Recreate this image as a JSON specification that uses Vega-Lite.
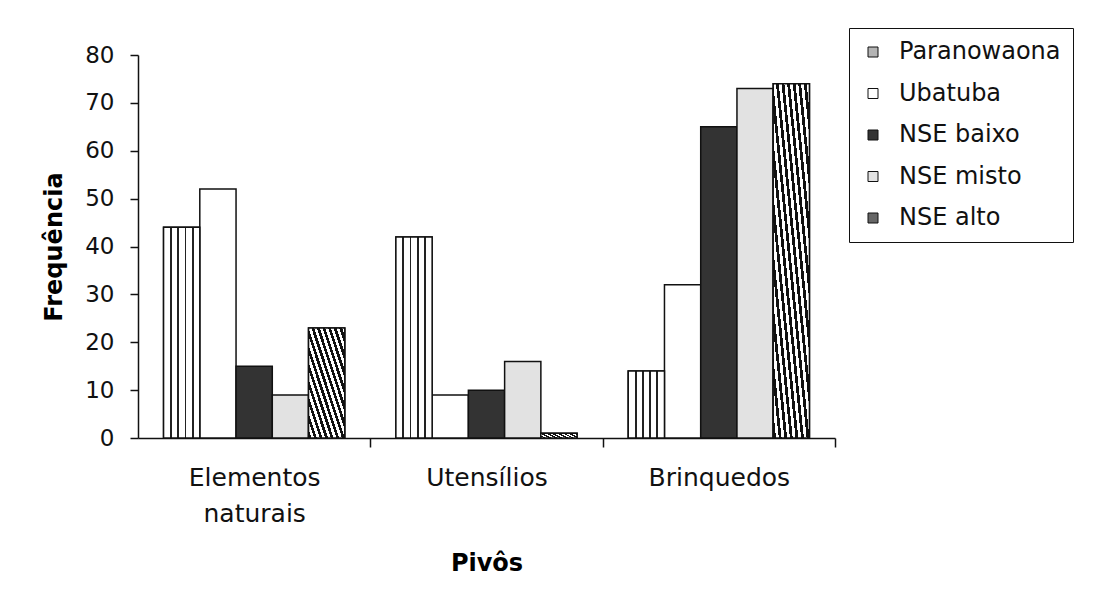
{
  "$schema": "https://vega.github.io/schema/vega-lite/v6.json",
  "autosize": "none",
  "padding": {"left": 138, "top": 55, "right": 269, "bottom": 163},
  "width": 697,
  "height": 383,
  "background": "white",
  "data": {
    "values": [
      {"pivo": "Elementos naturais", "grupo": "Paranowaona", "freq": 44},
      {"pivo": "Elementos naturais", "grupo": "Ubatuba", "freq": 52},
      {"pivo": "Elementos naturais", "grupo": "NSE baixo", "freq": 15},
      {"pivo": "Elementos naturais", "grupo": "NSE misto", "freq": 9},
      {"pivo": "Elementos naturais", "grupo": "NSE alto", "freq": 23},
      {"pivo": "Utensílios", "grupo": "Paranowaona", "freq": 42},
      {"pivo": "Utensílios", "grupo": "Ubatuba", "freq": 9},
      {"pivo": "Utensílios", "grupo": "NSE baixo", "freq": 10},
      {"pivo": "Utensílios", "grupo": "NSE misto", "freq": 16},
      {"pivo": "Utensílios", "grupo": "NSE alto", "freq": 1},
      {"pivo": "Brinquedos", "grupo": "Paranowaona", "freq": 14},
      {"pivo": "Brinquedos", "grupo": "Ubatuba", "freq": 32},
      {"pivo": "Brinquedos", "grupo": "NSE baixo", "freq": 65},
      {"pivo": "Brinquedos", "grupo": "NSE misto", "freq": 73},
      {"pivo": "Brinquedos", "grupo": "NSE alto", "freq": 74}
    ]
  },
  "encoding": {
    "x": {
      "field": "pivo",
      "type": "nominal",
      "sort": ["Elementos naturais", "Utensílios", "Brinquedos"],
      "scale": {"paddingInner": 0.22, "paddingOuter": 0.11},
      "axis": {
        "title": "Pivôs",
        "labelAngle": 0,
        "labelExpr": "split(datum.label, ' ')",
        "labelFont": "DejaVu Sans",
        "labelFontSize": 25,
        "labelLineHeight": 36,
        "labelColor": "#111",
        "labelPadding": 18,
        "labelBaseline": "top",
        "tickOffset": 116,
        "labelOffset": -116,
        "tickSize": 9,
        "tickColor": "#111",
        "tickWidth": 1.5,
        "domainColor": "#111",
        "domainWidth": 1.5,
        "titleFont": "DejaVu Sans",
        "titleFontSize": 24,
        "titleFontWeight": "bold",
        "titleColor": "#000",
        "titlePadding": 25
      }
    },
    "xOffset": {
      "field": "grupo",
      "type": "nominal",
      "sort": ["Paranowaona", "Ubatuba", "NSE baixo", "NSE misto", "NSE alto"],
      "scale": {"paddingInner": 0, "paddingOuter": 0}
    },
    "y": {
      "field": "freq",
      "type": "quantitative",
      "scale": {"domain": [0, 80], "nice": false},
      "axis": {
        "title": "Frequência",
        "values": [0, 10, 20, 30, 40, 50, 60, 70, 80],
        "grid": false,
        "labelFont": "DejaVu Sans",
        "labelFontSize": 23,
        "labelColor": "#111",
        "labelPadding": 16,
        "tickSize": 8,
        "tickColor": "#111",
        "tickWidth": 1.5,
        "domainColor": "#111",
        "domainWidth": 1.5,
        "titleFont": "DejaVu Sans",
        "titleFontSize": 24,
        "titleFontWeight": "bold",
        "titleColor": "#000",
        "titlePadding": 18
      }
    }
  },
  "layer": [
    {
      "mark": {"type": "bar", "stroke": "#111", "strokeWidth": 1.5},
      "encoding": {
        "fill": {
          "field": "grupo",
          "type": "nominal",
          "sort": ["Paranowaona", "Ubatuba", "NSE baixo", "NSE misto", "NSE alto"],
          "scale": {
            "domain": ["Paranowaona", "Ubatuba", "NSE baixo", "NSE misto", "NSE alto"],
            "range": ["#b4b4b4", "#ffffff", "#333333", "#e2e2e2", "#666666"]
          },
          "legend": {
            "title": null,
            "orient": "none",
            "legendX": 711,
            "legendY": -27,
            "direction": "vertical",
            "strokeColor": "#111",
            "fillColor": "white",
            "padding": 12,
            "symbolType": "square",
            "symbolSize": 100,
            "symbolStrokeColor": "#111",
            "symbolStrokeWidth": 1,
            "labelFont": "DejaVu Sans",
            "labelFontSize": 24,
            "labelColor": "#111",
            "labelOffset": 14,
            "labelLimit": 300,
            "rowPadding": 17.5
          }
        }
      }
    },
    {
      "transform": [{"filter": "datum.grupo === 'Paranowaona'"}],
      "mark": {
        "type": "bar", "stroke": "#111", "strokeWidth": 1.5,
        "fill": {
          "gradient": "linear", "x1": 0, "y1": 0, "x2": 1, "y2": 0,
          "stops": [
            {"offset": 0, "color": "#ffffff"},
            {"offset": 0.18, "color": "#ffffff"},
            {"offset": 0.18, "color": "#222222"},
            {"offset": 0.23, "color": "#222222"},
            {"offset": 0.23, "color": "#ffffff"},
            {"offset": 0.38, "color": "#ffffff"},
            {"offset": 0.38, "color": "#222222"},
            {"offset": 0.43, "color": "#222222"},
            {"offset": 0.43, "color": "#ffffff"},
            {"offset": 0.58, "color": "#ffffff"},
            {"offset": 0.58, "color": "#222222"},
            {"offset": 0.63, "color": "#222222"},
            {"offset": 0.63, "color": "#ffffff"},
            {"offset": 0.78, "color": "#ffffff"},
            {"offset": 0.78, "color": "#222222"},
            {"offset": 0.83, "color": "#222222"},
            {"offset": 0.83, "color": "#ffffff"},
            {"offset": 1, "color": "#ffffff"}
          ]
        }
      }
    },
    {
      "transform": [{"filter": "datum.grupo === 'NSE alto'"}],
      "mark": {
        "type": "bar", "stroke": "#111", "strokeWidth": 1.5,
        "fill": {
          "gradient": "linear", "x1": 0, "y1": 1, "x2": 1, "y2": 0,
          "stops": [
            {"offset": 0, "color": "#111111"}, {"offset": 0.0385, "color": "#111111"},
            {"offset": 0.0385, "color": "#ffffff"}, {"offset": 0.0769, "color": "#ffffff"},
            {"offset": 0.0769, "color": "#111111"}, {"offset": 0.1154, "color": "#111111"},
            {"offset": 0.1154, "color": "#ffffff"}, {"offset": 0.1538, "color": "#ffffff"},
            {"offset": 0.1538, "color": "#111111"}, {"offset": 0.1923, "color": "#111111"},
            {"offset": 0.1923, "color": "#ffffff"}, {"offset": 0.2308, "color": "#ffffff"},
            {"offset": 0.2308, "color": "#111111"}, {"offset": 0.2692, "color": "#111111"},
            {"offset": 0.2692, "color": "#ffffff"}, {"offset": 0.3077, "color": "#ffffff"},
            {"offset": 0.3077, "color": "#111111"}, {"offset": 0.3462, "color": "#111111"},
            {"offset": 0.3462, "color": "#ffffff"}, {"offset": 0.3846, "color": "#ffffff"},
            {"offset": 0.3846, "color": "#111111"}, {"offset": 0.4231, "color": "#111111"},
            {"offset": 0.4231, "color": "#ffffff"}, {"offset": 0.4615, "color": "#ffffff"},
            {"offset": 0.4615, "color": "#111111"}, {"offset": 0.5, "color": "#111111"},
            {"offset": 0.5, "color": "#ffffff"}, {"offset": 0.5385, "color": "#ffffff"},
            {"offset": 0.5385, "color": "#111111"}, {"offset": 0.5769, "color": "#111111"},
            {"offset": 0.5769, "color": "#ffffff"}, {"offset": 0.6154, "color": "#ffffff"},
            {"offset": 0.6154, "color": "#111111"}, {"offset": 0.6538, "color": "#111111"},
            {"offset": 0.6538, "color": "#ffffff"}, {"offset": 0.6923, "color": "#ffffff"},
            {"offset": 0.6923, "color": "#111111"}, {"offset": 0.7308, "color": "#111111"},
            {"offset": 0.7308, "color": "#ffffff"}, {"offset": 0.7692, "color": "#ffffff"},
            {"offset": 0.7692, "color": "#111111"}, {"offset": 0.8077, "color": "#111111"},
            {"offset": 0.8077, "color": "#ffffff"}, {"offset": 0.8462, "color": "#ffffff"},
            {"offset": 0.8462, "color": "#111111"}, {"offset": 0.8846, "color": "#111111"},
            {"offset": 0.8846, "color": "#ffffff"}, {"offset": 0.9231, "color": "#ffffff"},
            {"offset": 0.9231, "color": "#111111"}, {"offset": 0.9615, "color": "#111111"},
            {"offset": 0.9615, "color": "#ffffff"}, {"offset": 1, "color": "#ffffff"}
          ]
        }
      }
    }
  ],
  "config": {
    "view": {"stroke": null}
  }
}
